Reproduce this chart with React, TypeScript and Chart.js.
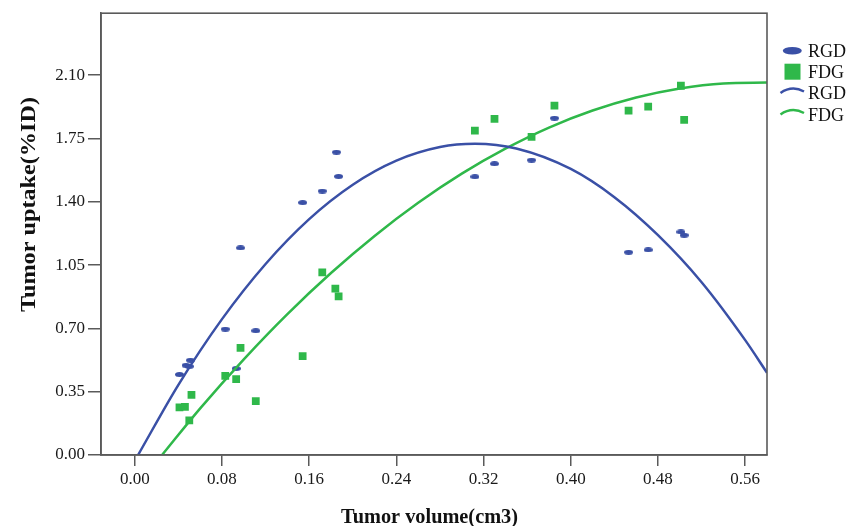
import React, { useEffect, useRef } from "react";
import { Chart, registerables } from "chart.js";
Chart.register(...registerables);

// Observed data (Tumor volume cm3, Tumor uptake %ID)
const rgdVolume = [0.041, 0.047, 0.051, 0.05, 0.083, 0.093, 0.097, 0.111, 0.154, 0.172, 0.185, 0.187, 0.312, 0.33, 0.364, 0.385, 0.453, 0.471, 0.501, 0.504];
const rgdUptake = [0.445, 0.496, 0.524, 0.49, 0.696, 0.478, 1.145, 0.687, 1.395, 1.459, 1.674, 1.54, 1.538, 1.61, 1.63, 1.862, 1.121, 1.134, 1.233, 1.215];
const fdgVolume = [0.041, 0.046, 0.052, 0.05, 0.083, 0.093, 0.097, 0.111, 0.154, 0.172, 0.184, 0.187, 0.312, 0.33, 0.364, 0.385, 0.453, 0.471, 0.501, 0.504];
const fdgUptake = [0.263, 0.266, 0.332, 0.191, 0.437, 0.419, 0.592, 0.298, 0.546, 1.009, 0.92, 0.877, 1.793, 1.858, 1.759, 1.931, 1.904, 1.926, 2.041, 1.852];

// Fit curves
const rgdFitX = [0.003, 0.04, 0.08, 0.12, 0.16, 0.2, 0.24, 0.28, 0.312, 0.35, 0.4, 0.44, 0.48, 0.52, 0.56, 0.58];
const rgdFitY = [0.0, 0.388, 0.751, 1.056, 1.304, 1.494, 1.627, 1.702, 1.72, 1.694, 1.581, 1.425, 1.215, 0.955, 0.635, 0.455];
const fdgFitX = [0.025, 0.06, 0.1, 0.14, 0.18, 0.22, 0.26, 0.3, 0.34, 0.38, 0.42, 0.46, 0.5, 0.54, 0.58];
const fdgFitY = [0.0, 0.258, 0.529, 0.779, 1.006, 1.211, 1.394, 1.555, 1.693, 1.81, 1.904, 1.976, 2.026, 2.054, 2.059];

const xTicks = [0, 0.08, 0.16, 0.24, 0.32, 0.4, 0.48, 0.56];
const yTicks = [0, 0.35, 0.7, 1.05, 1.4, 1.75, 2.1];

const legendLabels = ["RGD", "FDG", "RGD", "FDG"];
const xTitle = "Tumor volume(cm3)";
const yTitle = "Tumor uptake(%ID)";

const BLUE = "#3a50a6";
const GREEN = "#2fb84a";
const AXIS = "#5a5a5a";
const SERIF = "'Liberation Serif', 'Times New Roman', serif";

function makeEllipse(w: number, h: number, color: string) {
  const c = document.createElement("canvas");
  c.width = w;
  c.height = h;
  const ctx = c.getContext("2d")!;
  ctx.fillStyle = color;
  ctx.beginPath();
  ctx.ellipse(w / 2, h / 2, w / 2, h / 2, 0, 0, Math.PI * 2);
  ctx.fill();
  return c;
}

export default function App() {
  const ref = useRef<HTMLCanvasElement>(null);
  useEffect(() => {
    document.body.style.margin = "0";
    const ellipse = makeEllipse(9, 5, BLUE);

    const overlay = {
      id: "overlay",
      afterDatasetsDraw(chart: any) {
        const { ctx, chartArea } = chart;
        const { left, top, right, bottom } = chartArea;
        ctx.save();
        ctx.strokeStyle = AXIS;
        ctx.lineWidth = 1.6;
        ctx.strokeRect(left, top, right - left, bottom - top);
        ctx.restore();
      },
      afterDraw(chart: any) {
        const { ctx } = chart;
        ctx.save();
        ctx.fillStyle = "#111";
        // x title
        ctx.font = `bold 21px ${SERIF}`;
        ctx.textBaseline = "alphabetic";
        ctx.textAlign = "left";
        let w = ctx.measureText(xTitle).width;
        let target = 177;
        ctx.save();
        ctx.translate(341, 523);
        ctx.scale(target / w, 1);
        ctx.fillText(xTitle, 0, 0);
        ctx.restore();
        // y title
        w = ctx.measureText(yTitle).width;
        target = 215;
        ctx.save();
        ctx.translate(35, 312);
        ctx.rotate(-Math.PI / 2);
        ctx.scale(target / w, 1);
        ctx.fillText(yTitle, 0, 0);
        ctx.restore();

        // legend
        const rows = [50.7, 71.7, 93, 114.5];
        ctx.fillStyle = BLUE;
        ctx.beginPath();
        ctx.ellipse(792.3, rows[0], 9.5, 3.8, 0, 0, Math.PI * 2);
        ctx.fill();
        ctx.fillStyle = GREEN;
        ctx.fillRect(784.5, rows[1] - 8, 16, 16);
        ctx.lineWidth = 2.5;
        ctx.strokeStyle = BLUE;
        ctx.beginPath();
        ctx.moveTo(780.5, rows[2]);
        ctx.quadraticCurveTo(792, rows[2] - 8, 804, rows[2] - 1.5);
        ctx.stroke();
        ctx.strokeStyle = GREEN;
        ctx.beginPath();
        ctx.moveTo(780.5, rows[3]);
        ctx.quadraticCurveTo(792, rows[3] - 8, 804, rows[3] - 1.5);
        ctx.stroke();
        ctx.fillStyle = "#111";
        ctx.font = `18px ${SERIF}`;
        legendLabels.forEach((t, i) => {
          ctx.fillText(t, 808, rows[i] + 6);
        });
        ctx.restore();
      },
    };

    const tickFont = { family: SERIF, size: 17 };
    const chart = new Chart(ref.current!, {
      type: "scatter",
      data: {
        datasets: [
          {
            label: "RGD",
            data: rgdVolume.map((x, i) => ({ x, y: rgdUptake[i] })),
            pointStyle: ellipse as any,
            backgroundColor: BLUE,
            borderColor: BLUE,
            pointRadius: 5,
            order: 2,
          },
          {
            label: "FDG",
            data: fdgVolume.map((x, i) => ({ x, y: fdgUptake[i] })),
            pointStyle: "rect",
            backgroundColor: GREEN,
            borderColor: GREEN,
            borderWidth: 0,
            pointRadius: 5.5,
            order: 2,
          },
          {
            label: "RGD fit",
            data: rgdFitX.map((x, i) => ({ x, y: rgdFitY[i] })),
            showLine: true,
            borderColor: BLUE,
            borderWidth: 2.5,
            pointRadius: 0,
            cubicInterpolationMode: "monotone",
            order: 1,
          },
          {
            label: "FDG fit",
            data: fdgFitX.map((x, i) => ({ x, y: fdgFitY[i] })),
            showLine: true,
            borderColor: GREEN,
            borderWidth: 2.5,
            pointRadius: 0,
            cubicInterpolationMode: "monotone",
            order: 1,
          },
        ],
      },
      options: {
        responsive: false,
        animation: false,
        layout: { padding: { top: 12, right: 90, left: 0, bottom: 0 } },
        plugins: { legend: { display: false }, tooltip: { enabled: false } },
        scales: {
          x: {
            type: "linear",
            min: -0.031,
            max: 0.58,
            afterBuildTicks: (s: any) => {
              s.ticks = xTicks.map((v) => ({ value: v }));
            },
            afterFit: (s: any) => {
              s.height = 71;
            },
            ticks: {
              callback: (v: any) => Number(v).toFixed(2),
              font: tickFont,
              color: "#1a1a1a",
              padding: 3,
              autoSkip: false,
              maxRotation: 0,
            },
            grid: { drawOnChartArea: false, tickLength: 11, color: AXIS, lineWidth: 1.5 },
            border: { color: AXIS, width: 1.6 },
          },
          y: {
            type: "linear",
            min: 0,
            max: 2.442,
            afterBuildTicks: (s: any) => {
              s.ticks = yTicks.map((v) => ({ value: v }));
            },
            afterFit: (s: any) => {
              s.width = 101;
            },
            ticks: {
              callback: (v: any) => Number(v).toFixed(2),
              font: tickFont,
              color: "#1a1a1a",
              padding: 3,
            },
            grid: { drawOnChartArea: false, tickLength: 13, color: AXIS, lineWidth: 1.5 },
            border: { color: AXIS, width: 1.6 },
          },
        },
      },
      plugins: [overlay],
    } as any);
    return () => chart.destroy();
  }, []);
  return (
    <div style={{ width: 857, height: 526 }}>
      <canvas ref={ref} width={857} height={526} style={{ display: "block" }} />
    </div>
  );
}
